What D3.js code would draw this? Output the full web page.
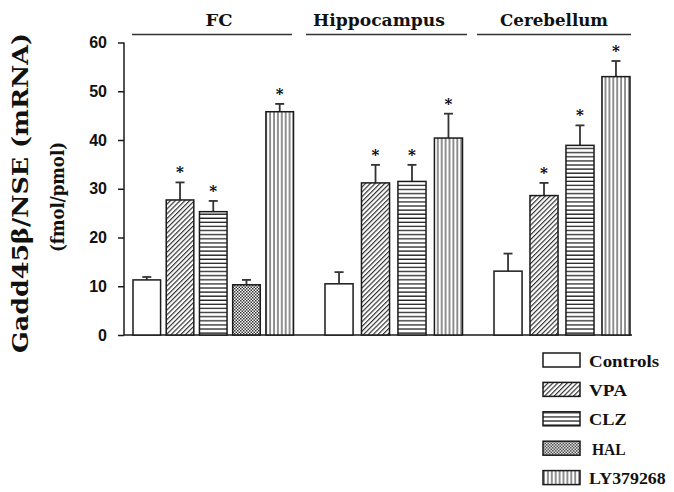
<!DOCTYPE html>
<html><head><meta charset="utf-8">
<script src="https://cdn.jsdelivr.net/npm/d3@7/dist/d3.min.js"></script>
<style>html,body{margin:0;padding:0;background:#fff;}svg{display:block;}</style>
</head><body>
<svg id="chart" width="674" height="492"></svg>
<script>
// ---- data ----
const regions = ["FC", "Hippocampus", "Cerebellum"];
const treatments = ["Controls", "VPA", "CLZ", "HAL", "LY379268"];
const fcValues = [11.3, 27.7, 25.3, 10.3, 45.8];
const fcErrors = [0.6, 3.6, 2.2, 1.0, 1.6];
const fcSig = [false, true, true, false, true];
const hippoTreatments = ["Controls", "VPA", "CLZ", "LY379268"];
const hippoValues = [10.5, 31.2, 31.5, 40.4];
const hippoErrors = [2.4, 3.7, 3.4, 5.0];
const hippoSig = [false, true, true, true];
const cerebTreatments = ["Controls", "VPA", "CLZ", "LY379268"];
const cerebValues = [13.1, 28.6, 38.9, 53.0];
const cerebErrors = [3.6, 2.6, 4.1, 3.2];
const cerebSig = [false, true, true, true];
const yTicks = [0, 10, 20, 30, 40, 50, 60];
const yLabel1 = "Gadd45\u03B2/NSE (mRNA)";
const yLabel2 = "(fmol/pmol)";

const groups = [
  {name: regions[0], cats: treatments, vals: fcValues, errs: fcErrors, sig: fcSig},
  {name: regions[1], cats: hippoTreatments, vals: hippoValues, errs: hippoErrors, sig: hippoSig},
  {name: regions[2], cats: cerebTreatments, vals: cerebValues, errs: cerebErrors, sig: cerebSig}
];

// ---- layout ----
const layout = {
  axisX: 124, y0: 335, y1: 42.5, xEnd: 632,
  groupBars: [[133, 293.5], [325, 462.5], [494, 630]],
  groupPad: [0.17, 0.23, 0.22],
  headerLines: [[132, 292], [306, 467], [477, 631]],
  headerY: 34.5, headerTextY: 25.5,
  headerTextCx: [219, 379, 554], headerTextW: [27, 132, 108]
};
const serif = "'DejaVu Serif', 'Liberation Serif', serif";
const serif2 = "'Liberation Serif', 'DejaVu Serif', serif";
const ink = "#1a1a1a";

const svg = d3.select("#chart");
const defs = svg.append("defs");

// patterns
const pVPA = defs.append("pattern").attr("id", "pVPA").attr("patternUnits", "userSpaceOnUse")
  .attr("width", 3.4).attr("height", 10).attr("patternTransform", "rotate(45)");
pVPA.append("rect").attr("width", 3.4).attr("height", 10).attr("fill", "#fff");
pVPA.append("line").attr("x1", 0.6).attr("x2", 0.6).attr("y1", 0).attr("y2", 10)
  .attr("stroke", "#222").attr("stroke-width", 1.1);

const pCLZ = defs.append("pattern").attr("id", "pCLZ").attr("patternUnits", "userSpaceOnUse")
  .attr("width", 10).attr("height", 4.1);
pCLZ.append("rect").attr("width", 10).attr("height", 4.1).attr("fill", "#fff");
pCLZ.append("line").attr("x1", 0).attr("x2", 10).attr("y1", 1).attr("y2", 1)
  .attr("stroke", "#222").attr("stroke-width", 1.3);

const pHAL = defs.append("pattern").attr("id", "pHAL").attr("patternUnits", "userSpaceOnUse")
  .attr("width", 3).attr("height", 3);
pHAL.append("rect").attr("width", 3).attr("height", 3).attr("fill", "#fff");
pHAL.append("rect").attr("x", 0).attr("y", 0).attr("width", 1.5).attr("height", 1.5).attr("fill", "#333");
pHAL.append("rect").attr("x", 1.5).attr("y", 1.5).attr("width", 1.5).attr("height", 1.5).attr("fill", "#333");

const pLY = defs.append("pattern").attr("id", "pLY").attr("patternUnits", "userSpaceOnUse")
  .attr("width", 3.9).attr("height", 10);
pLY.append("rect").attr("width", 3.9).attr("height", 10).attr("fill", "#fff");
pLY.append("line").attr("x1", 1).attr("x2", 1).attr("y1", 0).attr("y2", 10)
  .attr("stroke", "#222").attr("stroke-width", 1);

const fillFor = {
  "Controls": "#fff", "VPA": "url(#pVPA)", "CLZ": "url(#pCLZ)",
  "HAL": "url(#pHAL)", "LY379268": "url(#pLY)"
};

// scales
const y = d3.scaleLinear().domain([0, 60]).range([layout.y0, layout.y1]);

// y axis
const yAxis = d3.axisLeft(y).tickValues(yTicks).tickSize(6).tickPadding(11);
const gy = svg.append("g").attr("transform", `translate(${layout.axisX},0)`).call(yAxis);
gy.select(".domain").attr("stroke", ink).attr("stroke-width", 1.5)
  .attr("d", `M0,${y(60)}V${y(0)}`);
gy.selectAll(".tick line").attr("stroke", ink).attr("stroke-width", 1.5);
gy.selectAll(".tick text").attr("font-family", "'Liberation Sans', Arial, sans-serif")
  .attr("font-weight", "bold").attr("font-size", 16).attr("fill", "#111");

// baseline
svg.append("line").attr("x1", layout.axisX).attr("x2", layout.xEnd)
  .attr("y1", y(0)).attr("y2", y(0)).attr("stroke", ink).attr("stroke-width", 1.5);

// bars
groups.forEach((g, gi) => {
  const xb = d3.scaleBand().domain(g.cats).range(layout.groupBars[gi])
    .paddingInner(layout.groupPad[gi]).paddingOuter(0);
  const gg = svg.append("g");
  const rows = g.cats.map((c, i) => ({c, v: g.vals[i], e: g.errs[i], s: g.sig[i]}));
  rows.forEach(d => {
    const cx = xb(d.c) + xb.bandwidth() / 2;
    gg.append("line").attr("x1", cx).attr("x2", cx).attr("y1", y(d.v)).attr("y2", y(d.v + d.e))
      .attr("stroke", "#333").attr("stroke-width", 1.8);
    gg.append("line").attr("x1", cx - 4.5).attr("x2", cx + 4.5).attr("y1", y(d.v + d.e)).attr("y2", y(d.v + d.e))
      .attr("stroke", "#333").attr("stroke-width", 1.8);
    if (d.s) {
      gg.append("text").attr("x", cx).attr("y", y(d.v + d.e) - 5)
        .attr("text-anchor", "middle").attr("font-family", serif).attr("font-weight", "bold")
        .attr("font-size", 15).attr("fill", "#000").text("*");
    }
  });
  gg.selectAll("rect").data(rows).join("rect")
    .attr("x", d => xb(d.c)).attr("width", xb.bandwidth())
    .attr("y", d => y(d.v)).attr("height", d => y(0) - y(d.v))
    .attr("fill", d => fillFor[d.c]).attr("stroke", ink).attr("stroke-width", 1.5);

  // header
  const hl = layout.headerLines[gi];
  svg.append("line").attr("x1", hl[0]).attr("x2", hl[1]).attr("y1", layout.headerY).attr("y2", layout.headerY)
    .attr("stroke", "#333").attr("stroke-width", 1.6);
  svg.append("text").attr("x", layout.headerTextCx[gi]).attr("y", layout.headerTextY)
    .attr("text-anchor", "middle").attr("font-family", serif).attr("font-weight", "bold")
    .attr("font-size", 17).attr("fill", "#111")
    .attr("textLength", layout.headerTextW[gi]).attr("lengthAdjust", "spacingAndGlyphs")
    .text(g.name);
});

// y labels
svg.append("text").attr("transform", "translate(28,193) rotate(-90)")
  .attr("text-anchor", "middle").attr("font-family", serif).attr("font-weight", "bold")
  .attr("font-size", 22).attr("fill", "#111")
  .attr("textLength", 320).attr("lengthAdjust", "spacingAndGlyphs").text(yLabel1);
svg.append("text").attr("transform", "translate(64,197) rotate(-90)")
  .attr("text-anchor", "middle").attr("font-family", serif).attr("font-weight", "bold")
  .attr("font-size", 19).attr("fill", "#111")
  .attr("textLength", 110).attr("lengthAdjust", "spacingAndGlyphs").text(yLabel2);

// legend
const legW = {"Controls": 70, "VPA": 38, "CLZ": 37.7, "HAL": 33.7, "LY379268": 76.7};
const legDx = {"Controls": 0, "VPA": 0, "CLZ": 0, "HAL": 3, "LY379268": 0};
const leg = svg.append("g").attr("transform", "translate(543,353)");
treatments.forEach((t, i) => {
  const row = leg.append("g").attr("transform", `translate(0,${i * 29.4})`);
  row.append("rect").attr("width", 37).attr("height", 14).attr("fill", fillFor[t])
    .attr("stroke", ink).attr("stroke-width", 1.5);
  row.append("text").attr("x", 46 + legDx[t]).attr("y", 13.5)
    .attr("font-family", serif2).attr("font-weight", "bold").attr("font-size", 17).attr("fill", "#111")
    .attr("textLength", legW[t]).attr("lengthAdjust", "spacingAndGlyphs").text(t);
});
</script>
</body></html>
